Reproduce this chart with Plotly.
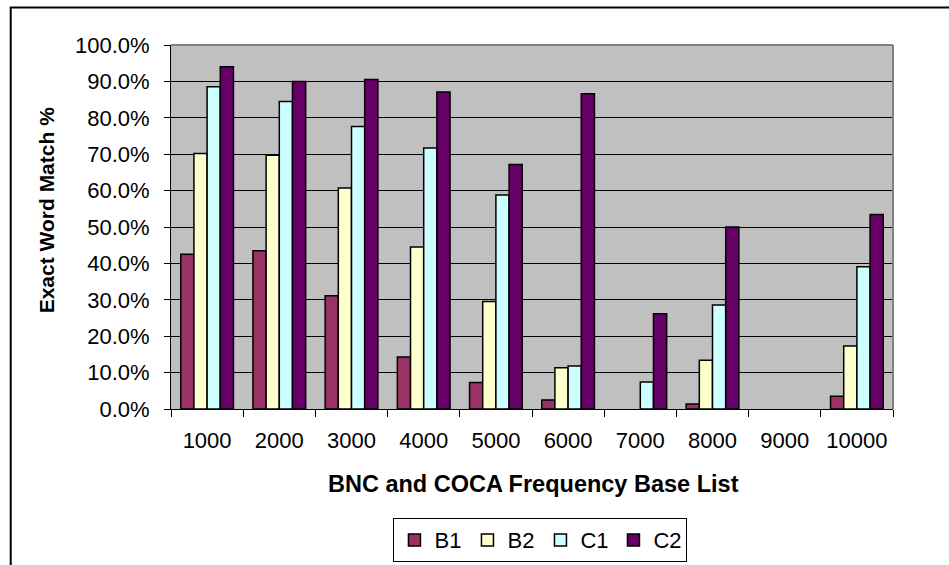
import plotly.graph_objects as go

# Frequency band categories and exact word match percentages per list
categories = ["1000", "2000", "3000", "4000", "5000", "6000", "7000", "8000", "9000", "10000"]
b1 = [42.5, 43.5, 31.1, 14.3, 7.3, 2.5, 0.0, 1.4, 0.0, 3.5]
b2 = [70.2, 69.7, 60.7, 44.5, 29.5, 11.3, 0.0, 13.4, 0.0, 17.3]
c1 = [88.5, 84.5, 77.6, 71.7, 58.8, 11.8, 7.4, 28.6, 0.0, 39.1]
c2 = [94.0, 90.0, 90.5, 87.1, 67.2, 86.6, 26.2, 50.0, 0.0, 53.4]

series = [
    ("B1", b1, "#993366"),
    ("B2", b2, "#FFFFCC"),
    ("C1", c1, "#CCFFFF"),
    ("C2", c2, "#660066"),
]

fig = go.Figure()
for name, vals, color in series:
    # empty bars get no outline so nothing shows for a zero value
    widths = [0 if v == 0 else 1.5 for v in vals]
    fig.add_trace(go.Bar(
        x=categories, y=vals, name=name,
        marker=dict(color=color, line=dict(color="black", width=widths)),
    ))

font_family = "Liberation Sans, Arial, sans-serif"

fig.update_layout(
    width=949, height=565,
    margin=dict(l=171, r=56, t=44.5, b=156, autoexpand=False),
    paper_bgcolor="white",
    plot_bgcolor="#C0C0C0",
    barmode="group",
    bargap=0.27,
    bargroupgap=0,
    font=dict(family=font_family, size=22, color="black"),
    showlegend=True,
    legend=dict(
        orientation="h",
        xref="container", yref="container",
        x=0.5695, xanchor="center",
        y=0.083, yanchor="top",
        bordercolor="black", borderwidth=1,
        font=dict(size=22),
        itemwidth=30,
        entrywidth=28, entrywidthmode="pixels",
        tracegroupgap=0,
    ),
    xaxis=dict(
        type="category",
        automargin=False,
        showgrid=False,
        showline=True, linecolor="black", linewidth=1,
        ticks="outside", ticklen=7, tickcolor="black",
        tickson="boundaries",
        ticklabelstandoff=12,
    ),
    yaxis=dict(
        range=[0, 100],
        automargin=False,
        tickvals=[0, 10, 20, 30, 40, 50, 60, 70, 80, 90, 100],
        ticktext=["0.0%", "10.0%", "20.0%", "30.0%", "40.0%", "50.0%",
                  "60.0%", "70.0%", "80.0%", "90.0%", "100.0%"],
        showgrid=True, gridcolor="black", gridwidth=1,
        showline=True, linecolor="black", linewidth=1,
        ticks="outside", ticklen=6, tickcolor="black",
        ticklabelstandoff=10,
        zeroline=False,
    ),
    annotations=[
        dict(text="<b>BNC and COCA Frequency Base List</b>",
             xref="paper", yref="paper", x=0.502, y=-0.206,
             xanchor="center", yanchor="middle", showarrow=False,
             font=dict(size=23.5)),
        dict(text="<b>Exact Word Match %</b>",
             xref="paper", yref="paper", x=-0.173, y=0.546,
             xanchor="center", yanchor="middle", showarrow=False,
             textangle=-90, font=dict(size=21)),
    ],
    shapes=[
        # top and right edges of the plot area
        dict(type="line", xref="paper", yref="paper", x0=0, x1=1, y0=1, y1=1,
             line=dict(color="#808080", width=2)),
        dict(type="line", xref="paper", yref="paper", x0=1, x1=1, y0=0, y1=1,
             line=dict(color="#808080", width=2)),
        # outer chart frame
        dict(type="rect", xref="paper", yref="paper",
             x0=-0.222, x1=1.2, y0=-0.6, y1=1.103,
             line=dict(color="black", width=2), layer="above"),
    ],
)

fig.write_html("out.html")
